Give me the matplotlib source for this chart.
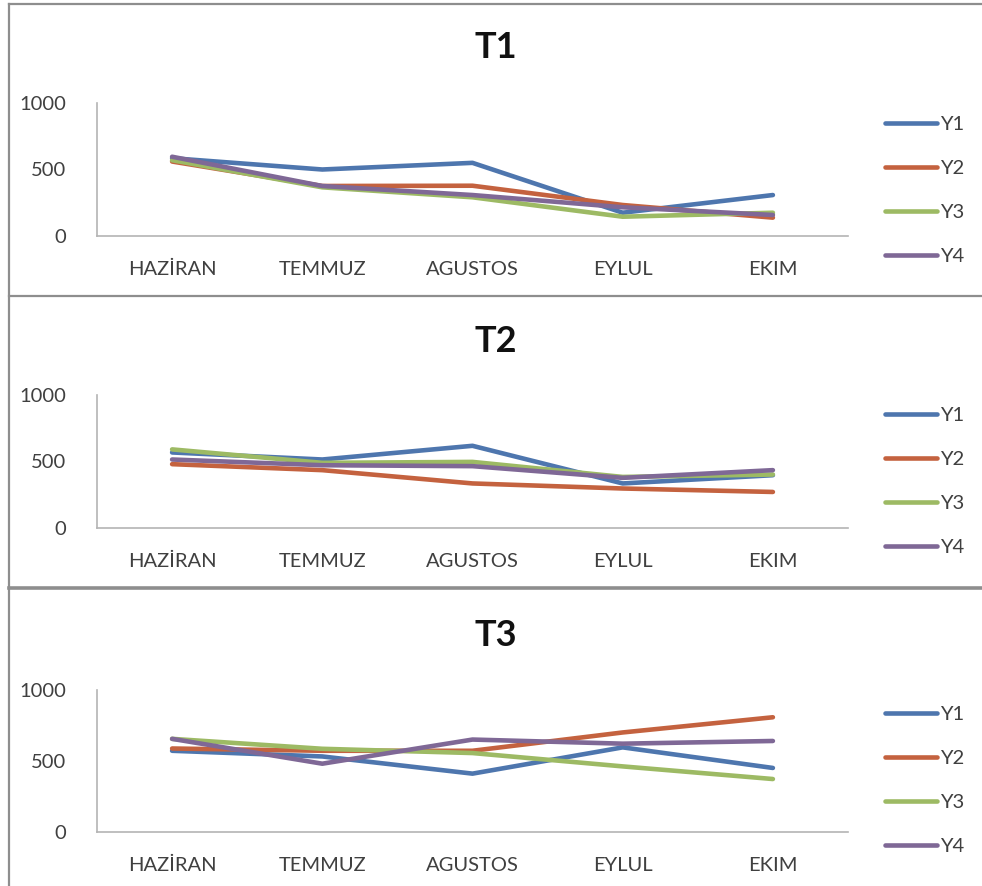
import matplotlib
matplotlib.use("Agg")
import matplotlib.pyplot as plt
from matplotlib.lines import Line2D

months = ["HAZİRAN", "TEMMUZ", "AGUSTOS", "EYLUL", "EKIM"]
series_names = ["Y1", "Y2", "Y3", "Y4"]

t1_y1 = [585, 500, 550, 175, 308]
t1_y2 = [560, 376, 378, 233, 138]
t1_y3 = [570, 366, 291, 145, 175]
t1_y4 = [596, 376, 308, 216, 158]

t2_y1 = [568, 515, 618, 335, 397]
t2_y2 = [480, 435, 335, 297, 271]
t2_y3 = [591, 490, 497, 384, 402]
t2_y4 = [515, 472, 465, 377, 435]

t3_y1 = [572, 532, 411, 596, 451]
t3_y2 = [588, 572, 572, 701, 808]
t3_y3 = [656, 586, 556, 462, 373]
t3_y4 = [656, 481, 651, 622, 641]

panel_titles = ["T1", "T2", "T3"]
panel_data = [
    [t1_y1, t1_y2, t1_y3, t1_y4],
    [t2_y1, t2_y2, t2_y3, t2_y4],
    [t3_y1, t3_y2, t3_y3, t3_y4],
]
y_ticks = [0, 500, 1000]

colors = ["#4E76AE", "#C4623F", "#9DBA64", "#7F6896"]
text_color = "#404040"
frame_color = "#8E8E8E"
spine_color = "#B4B4B4"

W, H = 982, 886
fig = plt.figure(figsize=(W / 100, H / 100), dpi=100)
fig.patch.set_facecolor("white")

label_font = ["Lato", "DejaVu Sans"]
title_font = ["Lato", "DejaVu Sans"]

# pixel layout of each panel: (axes top, axes bottom, title centre y, legend top)
panels = [
    (103, 236, 48, 116),
    (395, 528, 342, 407),
    (690, 832, 636, 706),
]
ax_left, ax_right = 97, 848

for (top, bottom, title_y, leg_top), title, data in zip(panels, panel_titles, panel_data):
    ax = fig.add_axes([ax_left / W, 1 - bottom / H, (ax_right - ax_left) / W, (bottom - top) / H])
    x = list(range(len(months)))
    for vals, name, c in zip(data, series_names, colors):
        ax.plot(x, vals, color=c, lw=3.3, label=name, solid_capstyle="round",
                solid_joinstyle="round")
    ax.set_xlim(-0.5, len(months) - 0.5)
    ax.set_ylim(0, 1000)
    ax.set_yticks(y_ticks)
    ax.set_xticks(x)
    ax.set_xticklabels(months)
    for s in ["top", "right"]:
        ax.spines[s].set_visible(False)
    for s in ["left", "bottom"]:
        ax.spines[s].set_color(spine_color)
        ax.spines[s].set_linewidth(1.2)
    ax.tick_params(axis="both", length=0, colors=text_color, labelsize=14.5)
    ax.tick_params(axis="y", pad=22)
    ax.tick_params(axis="x", pad=18)
    for lab in ax.get_xticklabels() + ax.get_yticklabels():
        lab.set_family(label_font)
    fig.text(496 / W, 1 - title_y / H, title, ha="center", va="center",
             fontsize=26, fontweight="bold", family=title_font, color="#111111")
    leg = ax.legend(loc="upper left", bbox_to_anchor=(885 / W, 1 - leg_top / H),
                    bbox_transform=fig.transFigure, frameon=False,
                    borderpad=0, borderaxespad=0,
                    handlelength=2.6, handletextpad=0.15, labelspacing=1.33,
                    prop={"family": label_font, "size": 14.5})
    for t in leg.get_texts():
        t.set_color(text_color)

# panel frame lines
def hline(y, lw):
    fig.add_artist(Line2D([8.5 / W, 1], [1 - y / H, 1 - y / H], transform=fig.transFigure,
                          color=frame_color, lw=lw))

fig.add_artist(Line2D([8.5 / W, 8.5 / W], [0, 1 - 3.5 / H], transform=fig.transFigure,
                      color=frame_color, lw=1.6))
hline(3.5, 1.6)
hline(296, 1.6)
hline(588, 2.6)

fig.savefig("out.png", dpi=100, facecolor="white")
